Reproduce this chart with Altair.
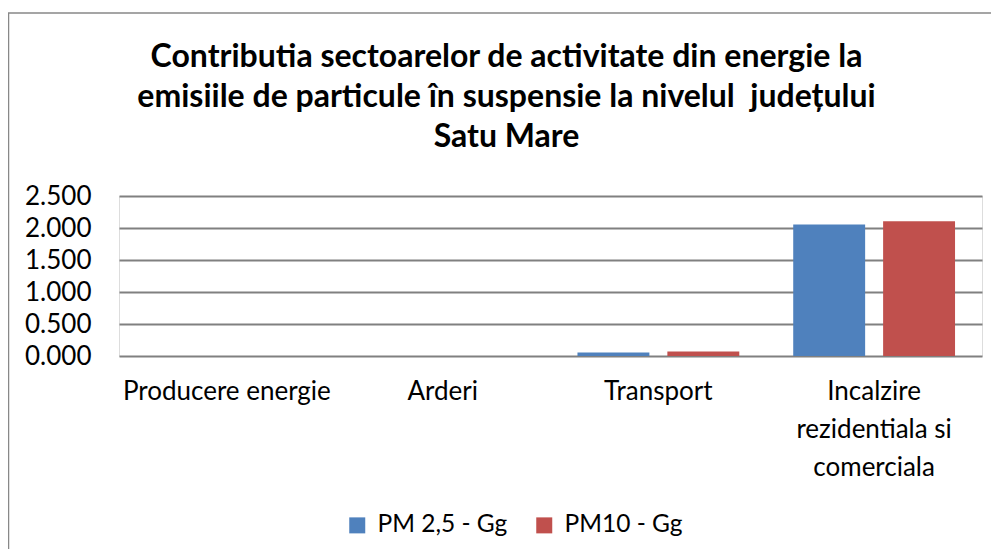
import altair as alt
import pandas as pd

categories = ["Producere energie", "Arderi", "Transport", "Incalzire rezidentiala si comerciala"]
series = ["PM 2,5 - Gg", "PM10 - Gg"]
pm25 = [0.0, 0.0, 0.056, 2.053]
pm10 = [0.0, 0.0, 0.072, 2.105]
y_ticks = [0.0, 0.5, 1.0, 1.5, 2.0, 2.5]
colors = ["#4F81BD", "#C0504D"]
title_lines = [
    "Contributia sectoarelor de activitate din energie la",
    "emisiile de particule în suspensie la nivelul \u00a0județului",
    "Satu Mare",
]

rows = []
for i, c in enumerate(categories):
    rows.append({"sector": c, "serie": series[0], "val": pm25[i]})
    rows.append({"sector": c, "serie": series[1], "val": pm10[i]})
df = pd.DataFrame(rows)

FONT = "Lato"
W, H = 863, 160

bars = alt.Chart(df).mark_bar().encode(
    x=alt.X(
        "sector:N",
        sort=categories,
        scale=alt.Scale(paddingInner=0, paddingOuter=0),
        axis=alt.Axis(
            title=None,
            labelAngle=0,
            domain=False,
            ticks=False,
            labelPadding=22,
            labelFontSize=26,
            labelLineHeight=38,
            labelLimit=0,
            labelBaseline="top",
            labelColor="#000000",
            labelFont=FONT,
            labelExpr="datum.value == 'Incalzire rezidentiala si comerciala' ? ['Incalzire', 'rezidentiala si', 'comerciala'] : datum.value",
        ),
    ),
    xOffset=alt.XOffset(
        "serie:N", sort=series, scale=alt.Scale(paddingInner=0.2, paddingOuter=0.3)
    ),
    y=alt.Y(
        "val:Q",
        scale=alt.Scale(domain=[0, 2.5], nice=False),
        axis=alt.Axis(
            title=None,
            values=y_ticks,
            format=".3f",
            domain=False,
            ticks=False,
            labelPadding=28,
            labelFontSize=26,
            labelColor="#000000",
            labelFont=FONT,
            grid=True,
            gridColor="#808080",
            gridWidth=1.8,
        ),
    ),
    color=alt.Color(
        "serie:N",
        sort=series,
        scale=alt.Scale(domain=series, range=colors),
        legend=alt.Legend(
            title=None,
            orient="none",
            legendX=226,
            legendY=317,
            direction="horizontal",
            symbolType="square",
            symbolSize=256,
            symbolStrokeWidth=0,
            labelFontSize=24.5,
            labelFont=FONT,
            labelColor="#000000",
            labelOffset=8,
            columnPadding=24,
            padding=0,
        ),
    ),
)

frame = alt.Chart(pd.DataFrame({"k": [0]})).mark_rect(
    filled=False, stroke="#888888", strokeWidth=1.5
).encode(
    x=alt.value(-110.5),
    x2=alt.value(W + 60),
    y=alt.value(-183),
    y2=alt.value(H + 260),
)

chart = (
    alt.layer(frame, bars)
    .properties(
        width=W,
        height=H,
        autosize=alt.AutoSizeParams(type="none"),
        padding={"left": 111, "top": 188, "right": 9, "bottom": 193},
        title=alt.Title(
            text=title_lines,
            font=FONT,
            fontSize=32,
            fontWeight="bold",
            lineHeight=40,
            anchor="middle",
            frame="group",
            dx=-44,
            color="#000000",
            offset=-142,
        ),
    )
    .configure_view(stroke=None)
    .configure(background="white")
)

chart.save("out.html", embed_options={"renderer": "svg", "actions": False})
